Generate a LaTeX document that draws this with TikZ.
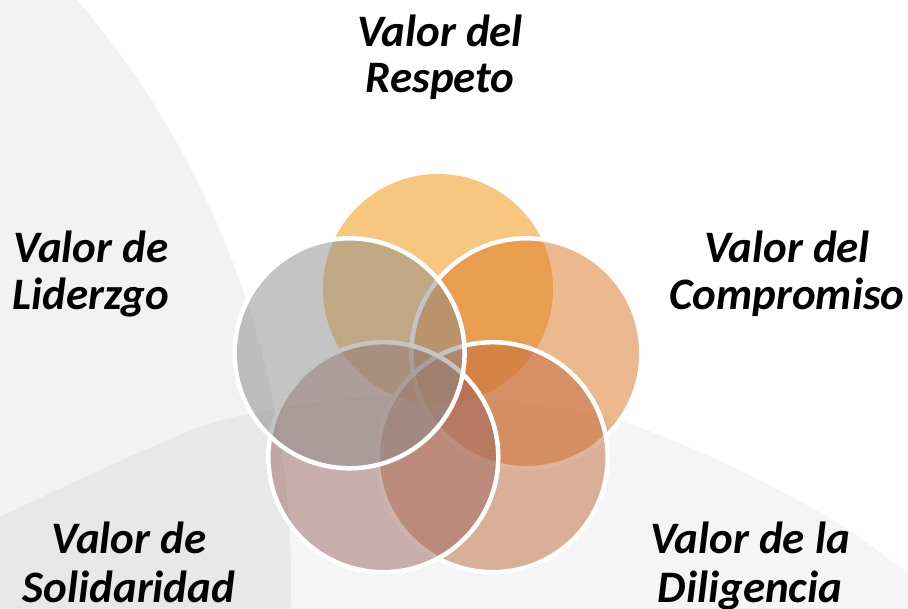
\documentclass[tikz,border=0pt]{standalone}
\usepackage{fontspec}
\setmainfont{Carlito}
\definecolor{cResp}{HTML}{F39101}
\definecolor{cComp}{HTML}{DB751F}
\definecolor{cDili}{HTML}{C3693D}
\definecolor{cSoli}{HTML}{9C6860}
\definecolor{cLide}{HTML}{8A8A8A}
\begin{document}
\begin{tikzpicture}[x=1pt,y=-1pt,
  lbl/.style={font=\fontsize{45}{54}\selectfont\bfseries\itshape, anchor=base, inner sep=0pt},
  venn/.style={fill=#1, fill opacity=0.5, draw=white, draw opacity=1, line width=4.5pt},
  bgshape/.style={fill=black, fill opacity=#1, draw=none}]
\useasboundingbox (0,0) rectangle (908,609);
\fill[white] (0,0) rectangle (908,609);
% background arcs
\begin{scope}
\clip (0,0) rectangle (908,609);
\path[bgshape=0.05] (-602,580) circle[radius=893pt];
\end{scope}
\path[bgshape=0.04] plot[smooth] coordinates {(-10,522) (0,517) (100,470) (200,427) (267,410) (350,398) (440,396) (540,405) (627,423) (733,467) (833,520) (900,567) (920,582)} -- (920,620) -- (-10,620) -- cycle;
% circles
\coordinate (pResp) at (438,289);
\coordinate (pComp) at (526.4,353.3);
\coordinate (pDili) at (492.7,457.2);
\coordinate (pSoli) at (383.3,457.2);
\coordinate (pLide) at (349.6,353.3);
\fill[cResp, fill opacity=0.5] (pResp) circle[radius=115pt];
\path[venn=cComp] (pComp) circle[radius=115pt];
\path[venn=cDili] (pDili) circle[radius=115pt];
\path[venn=cSoli] (pSoli) circle[radius=115pt];
\path[venn=cLide] (pLide) circle[radius=115pt];
% labels
\node[lbl] (t1a) at (440,47) {Valor del};
\node[lbl] (t1b) at (440,93) {Respeto};
\node[lbl] (t2a) at (91,263) {Valor de};
\node[lbl] (t2b) at (91,310) {Liderzgo};
\node[lbl] (t3a) at (787,263) {Valor del};
\node[lbl] (t3b) at (787,310) {Compromiso};
\node[lbl] (t4a) at (129,553) {Valor de};
\node[lbl] (t4b) at (129,602) {Solidaridad};
\node[lbl] (t5a) at (750,553) {Valor de la};
\node[lbl] (t5b) at (750,602) {Diligencia};
\end{tikzpicture}
\end{document}
